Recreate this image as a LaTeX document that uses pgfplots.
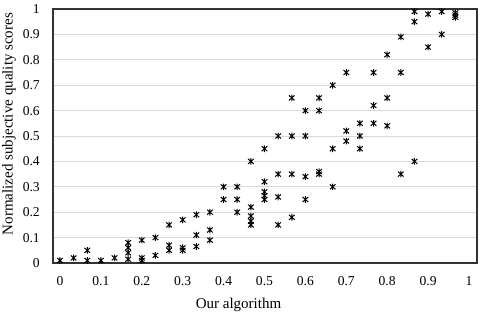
\documentclass[border=0pt]{standalone}
\usepackage{pgfplots}
\pgfplotsset{compat=1.18}
\usepackage{fontspec}
\setmainfont{Liberation Serif}
\pgfdeclareplotmark{xstar}{%
  \pgfpathmoveto{\pgfqpoint{0pt}{-\pgfplotmarksize}}%
  \pgfpathlineto{\pgfqpoint{0pt}{\pgfplotmarksize}}%
  \pgfpathmoveto{\pgfqpoint{-.85\pgfplotmarksize}{-.75\pgfplotmarksize}}%
  \pgfpathlineto{\pgfqpoint{.85\pgfplotmarksize}{.75\pgfplotmarksize}}%
  \pgfpathmoveto{\pgfqpoint{-.85\pgfplotmarksize}{.75\pgfplotmarksize}}%
  \pgfpathlineto{\pgfqpoint{.85\pgfplotmarksize}{-.75\pgfplotmarksize}}%
  \pgfusepathqstroke}
\begin{document}
\begin{tikzpicture}
\begin{axis}[
  scale only axis, width=424pt, height=254pt,
  xmin=-0.0171, xmax=1.0196, ymin=0, ymax=1,
  xtick={0,0.1,0.2,0.3,0.4,0.5,0.6,0.7,0.8,0.9,1},
  xticklabels={0,0.1,0.2,0.3,0.4,0.5,0.6,0.7,0.8,0.9,1},
  ytick={0,0.1,0.2,0.3,0.4,0.5,0.6,0.7,0.8,0.9,1},
  yticklabels={0,0.1,0.2,0.3,0.4,0.5,0.6,0.7,0.8,0.9,1},
  major tick length=0pt,
  ymajorgrids, grid style={color=black!15, line width=0.8pt},
  axis line style={black!80, line width=1.2pt},
  tick label style={font=\fontsize{13.6}{16}\selectfont, inner sep=0pt},
  yticklabel style={xshift=-13pt},
  xticklabel style={yshift=-13pt},
  label style={font=\fontsize{15}{18}\selectfont, inner sep=0pt},
  xlabel={Our algorithm},
  ylabel={Normalized subjective quality scores},
  xlabel style={at={(rel axis cs:0.4375,0)}, anchor=base, yshift=-45.5pt},
  ylabel style={at={(rel axis cs:0,0.547)}, anchor=center, yshift=44pt},
  clip=false,
]
\addplot[only marks, mark=xstar, mark size=3.3pt, line width=1pt, black] table {
x y
0 0.01
0.0333 0.02
0.0667 0.05
0.0667 0.01
0.1 0.01
0.1333 0.02
0.1667 0.08
0.1667 0.06
0.1667 0.04
0.1667 0.015
0.2 0.09
0.2 0.02
0.2 0.01
0.2333 0.10
0.2333 0.03
0.2667 0.15
0.2667 0.07
0.2667 0.05
0.3 0.17
0.3 0.06
0.3 0.05
0.3333 0.19
0.3333 0.11
0.3333 0.065
0.3667 0.20
0.3667 0.13
0.3667 0.09
0.4 0.30
0.4 0.25
0.4333 0.30
0.4333 0.25
0.4333 0.20
0.4667 0.40
0.4667 0.22
0.4667 0.185
0.4667 0.165
0.4667 0.15
0.5 0.45
0.5 0.32
0.5 0.28
0.5 0.265
0.5 0.25
0.5333 0.50
0.5333 0.35
0.5333 0.26
0.5333 0.15
0.5667 0.65
0.5667 0.50
0.5667 0.35
0.5667 0.18
0.6 0.60
0.6 0.50
0.6 0.34
0.6 0.25
0.6333 0.65
0.6333 0.60
0.6333 0.36
0.6333 0.35
0.6667 0.70
0.6667 0.45
0.6667 0.30
0.7 0.75
0.7 0.52
0.7 0.48
0.7333 0.55
0.7333 0.50
0.7333 0.45
0.7667 0.75
0.7667 0.62
0.7667 0.55
0.8 0.82
0.8 0.65
0.8 0.54
0.8333 0.89
0.8333 0.75
0.8333 0.35
0.8667 0.99
0.8667 0.95
0.8667 0.40
0.9 0.98
0.9 0.85
0.9333 0.99
0.9333 0.90
0.9667 0.985
0.9667 0.976
0.9667 0.967
};
\end{axis}
\pgfresetboundingbox
\path (current axis.south west) ++(-53pt,-51pt) rectangle ([xshift=3pt,yshift=9pt]current axis.north east);
\end{tikzpicture}
\end{document}
